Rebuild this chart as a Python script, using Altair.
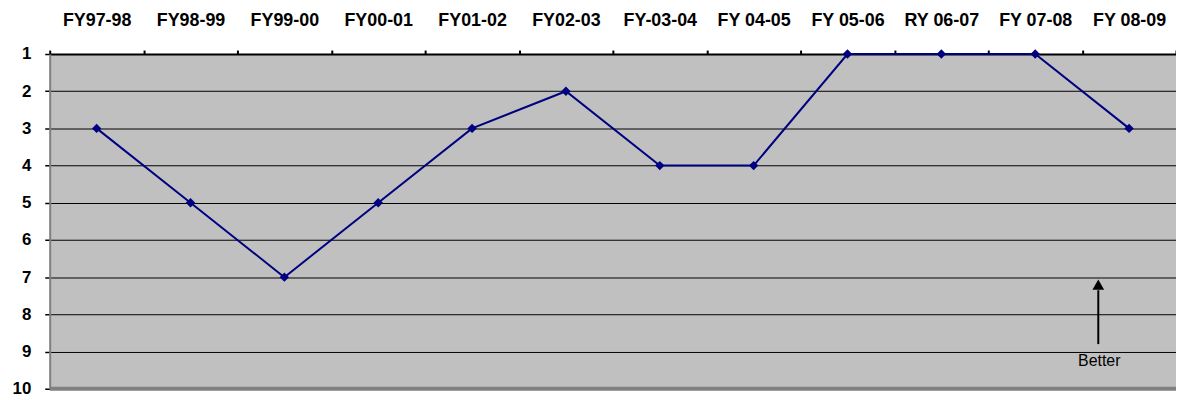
import altair as alt
import pandas as pd

years = ["FY97-98", "FY98-99", "FY99-00", "FY00-01", "FY01-02", "FY02-03",
         "FY-03-04", "FY 04-05", "FY 05-06", "RY 06-07", "FY 07-08", "FY 08-09"]
ranks = [3, 5, 7, 5, 3, 2, 4, 4, 1, 1, 1, 3]
rank_ticks = [1, 2, 3, 4, 5, 6, 7, 8, 9, 10]

df = pd.DataFrame({"year": years, "rank": ranks})

FONT = "Liberation Sans"

xscale = alt.Scale(domain=years, paddingInner=0, paddingOuter=0)
yscale = alt.Scale(domain=[1, 10], reverse=True, nice=False, zero=False)

xenc = alt.X("year:N", scale=xscale, sort=None, title=None,
             axis=alt.Axis(orient="top", labelAngle=0, labelFont=FONT, labelFontSize=18,
                           labelFontWeight="bold", labelColor="black", labelPadding=21,
                           labelOverlap=False,
                           tickBand="extent", tickSize=4, tickColor="black", tickWidth=2,
                           domainColor="black", domainWidth=2, grid=False))
yenc = alt.Y("rank:Q", scale=yscale, title=None,
             axis=alt.Axis(values=rank_ticks, tickCount=10, labelOverlap=False,
                           labelFont=FONT, labelFontSize=17,
                           labelFontWeight="bold", labelColor="black", labelPadding=14,
                           tickSize=5, tickColor="black", tickWidth=1.5,
                           domainColor="#808080", domainWidth=2,
                           grid=True, gridColor="black", gridWidth=1, gridOpacity=1))

line = alt.Chart(df).mark_line(color="#000080", strokeWidth=2).encode(x=xenc, y=yenc)
pts = alt.Chart(df).mark_point(shape="diamond", filled=True, color="#000080",
                               size=90, opacity=1).encode(x="year:N", y="rank:Q")

# bottom border
bottom = alt.Chart(pd.DataFrame({"r": [10]})).mark_rule(color="#808080", strokeWidth=4).encode(
    y=alt.Y("r:Q", scale=yscale))

# arrow annotation
arrow_df = pd.DataFrame({"year": ["FY 08-09"], "y1": [8.8], "y2": [7.35]})
shaft = alt.Chart(arrow_df).mark_rule(color="black", strokeWidth=2, xOffset=-31).encode(
    x=alt.X("year:N", scale=xscale), y=alt.Y("y1:Q", scale=yscale), y2="y2:Q")
head_df = pd.DataFrame({"year": ["FY 08-09"], "y": [7.2]})
head = alt.Chart(head_df).mark_point(shape="triangle-up", filled=True, color="black",
                                     size=140, opacity=1, xOffset=-31).encode(
    x=alt.X("year:N", scale=xscale), y=alt.Y("y:Q", scale=yscale))
txt_df = pd.DataFrame({"year": ["FY 08-09"], "y": [9.25], "t": ["Better"]})
txt = alt.Chart(txt_df).mark_text(font=FONT, fontSize=16, color="black", dx=-30).encode(
    x=alt.X("year:N", scale=xscale), y=alt.Y("y:Q", scale=yscale), text="t:N")

chart = alt.layer(line, pts, bottom, shaft, head, txt).properties(
    width=1134, height=337,
    autosize=alt.AutoSizeParams(type="none"),
    padding={"left": 42, "top": 45, "right": 0, "bottom": 9},
    background="white",
).configure_view(fill="#c0c0c0", stroke=None)

chart.save("out.html", embed_options={"renderer": "svg", "actions": False})
